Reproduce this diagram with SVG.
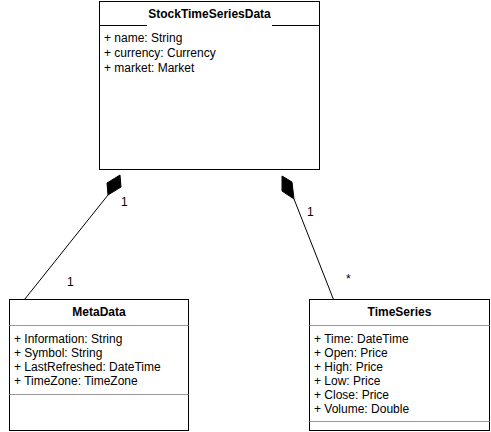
<svg xmlns="http://www.w3.org/2000/svg" width="491" height="432" viewBox="0 0 491 432">
<style>
.box{fill:#fff;stroke:#000;stroke-width:1}
.sep{stroke:#999;stroke-width:1}
.hdr{stroke:#000;stroke-width:1}
.title{font-family:"Liberation Sans",Arial,sans-serif;font-size:12px;font-weight:bold;fill:#000;text-anchor:middle}
.attr{font-family:"Liberation Sans",Arial,sans-serif;font-size:12px;fill:#000}
.lbl{font-family:"Liberation Sans",Arial,sans-serif;font-size:12px;fill:#000}
.edge{stroke:#000;stroke-width:1;fill:none}
.diamond{fill:#000;stroke:#000;stroke-width:1}
</style>
<g id="StockTimeSeriesData">
<rect class="box" x="99.5" y="1.5" width="220" height="168"/>
<line class="hdr" x1="99.5" y1="25.5" x2="147" y2="25.5"/>
<line class="hdr" x1="272" y1="25.5" x2="319.5" y2="25.5"/>
<text class="title" x="209.5" y="18">StockTimeSeriesData</text>
<text class="attr" x="104" y="42">+ name: String</text>
<text class="attr" x="104" y="57">+ currency: Currency</text>
<text class="attr" x="104" y="72">+ market: Market</text>
</g>
<g id="MetaData">
<rect class="box" x="9.5" y="299.5" width="179" height="131"/>
<line class="sep" x1="9.5" y1="325.5" x2="188.5" y2="325.5"/>
<line class="sep" x1="9.5" y1="394.5" x2="188.5" y2="394.5"/>
<text class="title" x="99" y="316">MetaData</text>
<text class="attr" x="14" y="343">+ Information: String</text>
<text class="attr" x="14" y="357">+ Symbol: String</text>
<text class="attr" x="14" y="371">+ LastRefreshed: DateTime</text>
<text class="attr" x="14" y="385">+ TimeZone: TimeZone</text>
</g>
<g id="TimeSeries">
<rect class="box" x="309.5" y="299.5" width="180" height="131"/>
<line class="sep" x1="309.5" y1="325.5" x2="489.5" y2="325.5"/>
<line class="sep" x1="309.5" y1="421.5" x2="489.5" y2="421.5"/>
<text class="title" x="399.5" y="316">TimeSeries</text>
<text class="attr" x="314" y="343">+ Time: DateTime</text>
<text class="attr" x="314" y="357">+ Open: Price</text>
<text class="attr" x="314" y="371">+ High: Price</text>
<text class="attr" x="314" y="385">+ Low: Price</text>
<text class="attr" x="314" y="399">+ Close: Price</text>
<text class="attr" x="314" y="413">+ Volume: Double</text>
</g>
<g id="connectors">
<line class="edge" x1="24.5" y1="299.5" x2="108" y2="195"/>
<polygon class="diamond" points="120,175 121,187 108,195 107,183"/>
<line class="edge" x1="333.5" y1="299.5" x2="294" y2="199"/>
<polygon class="diamond" points="282,176 292,182 294,199 282,191"/>
<text class="lbl" x="121" y="206">1</text>
<text class="lbl" x="67" y="286">1</text>
<text class="lbl" x="307" y="216">1</text>
<text class="lbl" x="346" y="283">*</text>
</g>
</svg>
